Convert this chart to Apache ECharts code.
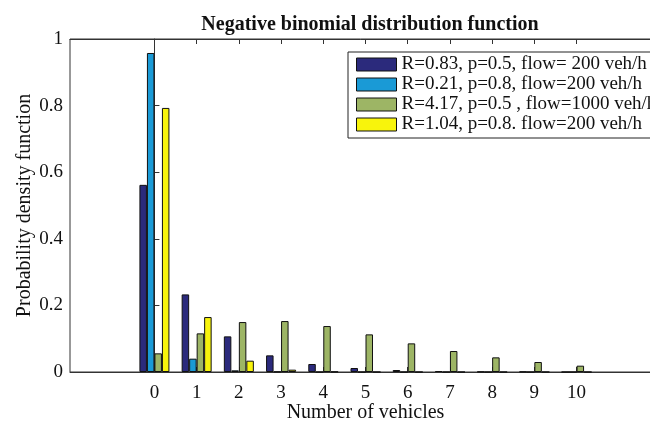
<!DOCTYPE html>
<html>
<head>
<meta charset="utf-8">
<script src="https://cdn.jsdelivr.net/npm/echarts@6/dist/echarts.min.js"></script>
<style>
	html, body { margin: 0; padding: 0; background: #fff; }
	#chart { width: 650px; height: 423px; }
</style>
</head>
<body>
<div id="chart"></div>
<script type="text/javascript">
	// number of vehicles
	var vehicles = [0, 1, 2, 3, 4, 5, 6, 7, 8, 9, 10];
	var seriesNames = [
		'R=0.83, p=0.5, flow= 200 veh/h',
		'R=0.21, p=0.8, flow=200 veh/h',
		'R=4.17, p=0.5 , flow=1000 veh/h',
		'R=1.04, p=0.8. flow=200 veh/h'
	];
	var pdfA = [0.562, 0.233, 0.107, 0.050, 0.024, 0.012, 0.006, 0.003, 0.001, 0.001, 0.000];
	var pdfB = [0.958, 0.040, 0.005, 0.001, 0.000, 0.000, 0.000, 0.000, 0.000, 0.000, 0.000];
	var pdfC = [0.056, 0.116, 0.150, 0.153, 0.138, 0.113, 0.086, 0.063, 0.044, 0.030, 0.019];
	var pdfD = [0.793, 0.165, 0.034, 0.007, 0.001, 0.000, 0.000, 0.000, 0.000, 0.000, 0.000];
	var colors = ['#2b2a7c', '#1a9ad6', '#9db565', '#f8f40c'];

	var font = 'Liberation Serif';
	var allData = [pdfA, pdfB, pdfC, pdfD];
	var series = [];
	for (var i = 0; i < allData.length; i++) {
		series.push({
			name: seriesNames[i],
			type: 'bar',
			barWidth: 7.5,
			barGap: '0%',
			itemStyle: { color: colors[i], borderColor: '#111', borderWidth: 1 },
			data: vehicles.map(function (v, k) { return [v, allData[i][k]]; })
		});
	}

	var tickStyle = { show: true, inside: true, length: 5, lineStyle: { color: '#333' }, customValues: vehicles };

	var chart = echarts.init(document.getElementById('chart'));
	var option = {
		animation: false,
		color: colors,
		title: {
			text: 'Negative binomial distribution function',
			left: 365,
			textAlign: 'center',
			top: 10,
			textStyle: { fontFamily: font, fontSize: 20, fontWeight: 'bold', color: '#111' }
		},
		legend: {
			orient: 'vertical',
			left: 348,
			top: 52,
			itemWidth: 40,
			itemHeight: 13,
			itemGap: 1,
			padding: [3, 40, 4, 8],
			backgroundColor: '#fff',
			borderColor: '#222',
			borderWidth: 1,
			icon: 'rect',
			itemStyle: { borderColor: '#111', borderWidth: 1 },
			textStyle: { fontFamily: font, fontSize: 19, color: '#111' },
			data: seriesNames
		},
		grid: {
			left: 70,
			top: 39,
			width: 591,
			bottom: 51,
			outerBoundsMode: 'none',
			show: true,
			borderColor: '#333',
			borderWidth: 1
		},
		xAxis: [{
			type: 'value',
			min: -2,
			max: 12,
			interval: 1,
			name: 'Number of vehicles',
			nameLocation: 'middle',
			nameGap: 31,
			nameMoveOverlap: false,
			nameTextStyle: { fontFamily: font, fontSize: 20, color: '#111' },
			axisLine: { show: true, lineStyle: { color: '#333' } },
			axisTick: tickStyle,
			axisLabel: { customValues: vehicles, fontFamily: font, fontSize: 19, color: '#111', margin: 12 },
			splitLine: { show: false }
		}, {
			type: 'value',
			position: 'top',
			min: -2,
			max: 12,
			interval: 1,
			axisLine: { show: true, lineStyle: { color: '#333' } },
			axisTick: tickStyle,
			axisLabel: { show: false },
			splitLine: { show: false }
		}],
		yAxis: {
			type: 'value',
			min: 0,
			max: 1,
			interval: 0.2,
			name: 'Probability density function',
			nameLocation: 'middle',
			nameGap: 35,
			nameMoveOverlap: false,
			nameTextStyle: { fontFamily: font, fontSize: 20, color: '#111' },
			axisLine: { show: true, lineStyle: { color: '#333' } },
			axisTick: { show: true, inside: true, length: 5, lineStyle: { color: '#333' } },
			axisLabel: { fontFamily: font, fontSize: 19, color: '#111', margin: 7 },
			splitLine: { show: false }
		},
		series: series
	};
	chart.setOption(option);
	window.onresize = function () {
		chart.resize();
	};
</script>
</body>
</html>
